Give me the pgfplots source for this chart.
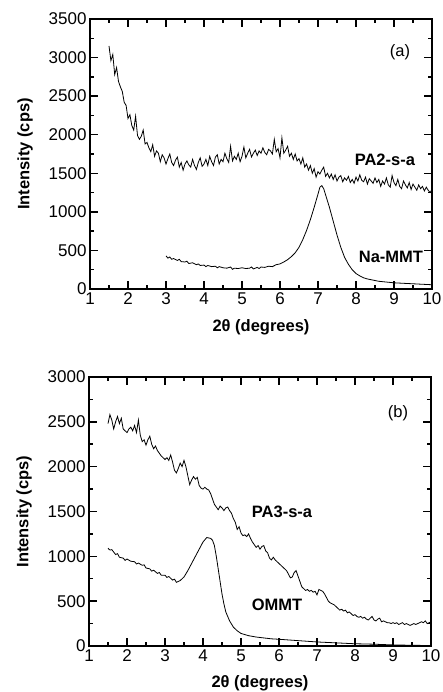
\documentclass[border=0pt]{standalone}
\usepackage{fontspec}
\setmainfont{Liberation Sans}
\usepackage{pgfplots}
\pgfplotsset{compat=1.18}
\newcommand{\tf}{\fontsize{17}{20}\selectfont}
\newcommand{\lf}{\fontsize{16.5}{19}\selectfont}
\tikzset{tk/.style={black, line width=1.5pt}}
\pgfplotsset{
  xrd/.style={
    scale only axis, width=342pt,
    xmin=1, xmax=10, xtick={1,2,...,10},
    minor x tick num=1, minor y tick num=1,
    tick align=inside, tick pos=both,
    major tick length=8pt, minor tick length=4pt,
    every tick/.append style={black, line width=1.5pt},
    tick label style={font=\tf},
    /pgf/number format/assume math mode=true,
    /pgf/number format/set thousands separator={},
    xlabel={\textbf{2θ (degrees)}},
    ylabel={\textbf{Intensity (cps)}},
    xlabel style={at={(axis description cs:0.5,-0.14)}, anchor=center, font=\lf},
    ylabel style={at={(axis description cs:-0.19,0.5)}, anchor=center, font=\lf},
    clip=false,
  },
  curve/.style={black, line width=0.8pt, mark=none},
}
\begin{document}
\begin{tikzpicture}
% ---------------- panel (a)
\begin{axis}[xrd, at={(90pt,403pt)}, anchor=south west, height=270pt,
  ymin=0, ymax=3500, ytick={0,500,...,3500}]
\addplot[curve] coordinates {
(1.50,3150)(1.55,2960)(1.60,3040)(1.65,2780)(1.70,2870)(1.75,2690)(1.80,2620)(1.85,2560)(1.90,2420)(1.95,2380)
(2.00,2210)(2.05,2260)(2.10,2120)(2.15,2060)(2.20,2240)(2.25,1990)(2.30,1940)(2.35,1980)(2.40,2060)(2.45,1880)
(2.50,1900)(2.55,1830)(2.60,1780)(2.65,1870)(2.70,1720)(2.75,1790)(2.80,1760)(2.85,1650)(2.90,1740)(2.95,1700)
(3.00,1620)(3.05,1690)(3.10,1750)(3.15,1640)(3.20,1600)(3.25,1670)(3.30,1710)(3.35,1580)(3.40,1640)(3.45,1540)
(3.50,1620)(3.55,1660)(3.60,1610)(3.65,1580)(3.70,1680)(3.75,1600)(3.80,1550)(3.85,1640)(3.90,1700)(3.95,1590)
(4.00,1620)(4.05,1680)(4.10,1600)(4.15,1720)(4.20,1650)(4.25,1600)(4.30,1710)(4.35,1740)(4.40,1620)(4.45,1680)
(4.50,1650)(4.55,1760)(4.60,1690)(4.65,1640)(4.70,1850)(4.75,1660)(4.80,1720)(4.85,1680)(4.90,1760)(4.95,1650)
(5.00,1720)(5.05,1840)(5.10,1700)(5.15,1760)(5.20,1810)(5.25,1710)(5.30,1760)(5.35,1800)(5.40,1730)(5.45,1790)
(5.50,1760)(5.55,1830)(5.60,1770)(5.65,1740)(5.70,1810)(5.75,1790)(5.80,1750)(5.85,1940)(5.90,1780)(5.95,1820)
(6.00,1700)(6.05,1960)(6.10,1760)(6.15,1800)(6.20,1850)(6.25,1720)(6.30,1760)(6.35,1680)(6.40,1750)(6.45,1660)
(6.50,1690)(6.55,1620)(6.60,1700)(6.65,1580)(6.70,1620)(6.75,1540)(6.80,1600)(6.85,1500)(6.90,1560)(6.95,1450)
(7.00,1520)(7.05,1490)(7.10,1540)(7.15,1580)(7.20,1460)(7.25,1500)(7.30,1440)(7.35,1490)(7.40,1420)(7.45,1480)
(7.50,1400)(7.55,1450)(7.60,1470)(7.65,1390)(7.70,1440)(7.75,1410)(7.80,1460)(7.85,1380)(7.90,1420)(7.95,1370)
(8.00,1450)(8.05,1400)(8.10,1480)(8.15,1410)(8.20,1390)(8.25,1450)(8.30,1360)(8.35,1430)(8.40,1400)(8.45,1370)
(8.50,1440)(8.55,1380)(8.60,1420)(8.65,1330)(8.70,1400)(8.75,1360)(8.80,1440)(8.85,1350)(8.90,1320)(8.95,1470)
(9.00,1380)(9.05,1340)(9.10,1420)(9.15,1330)(9.20,1300)(9.25,1400)(9.30,1350)(9.35,1310)(9.40,1380)(9.45,1290)
(9.50,1360)(9.55,1320)(9.60,1280)(9.65,1350)(9.70,1300)(9.75,1330)(9.80,1270)(9.85,1320)(9.90,1280)(9.95,1250)
(10.00,1290)
};
\addplot[curve] coordinates {
(3.0,430)(3.05,400)(3.1,415)(3.15,385)(3.2,395)(3.3,370)(3.35,385)(3.4,355)(3.5,350)(3.55,360)(3.6,330)(3.7,340)(3.8,315)(3.85,325)(3.9,305)
(4.0,310)(4.05,290)(4.1,305)(4.2,290)(4.3,295)(4.35,275)(4.4,290)(4.5,275)(4.6,270)(4.7,285)(4.75,255)(4.8,270)(4.9,265)
(5.0,275)(5.1,265)(5.2,270)(5.25,285)(5.3,260)(5.4,280)(5.45,265)(5.5,285)(5.6,280)(5.7,295)(5.8,290)(5.9,315)
(6.0,325)(6.1,350)(6.2,380)(6.3,420)(6.4,470)(6.5,540)(6.6,640)(6.7,760)(6.8,900)(6.9,1060)
(7.0,1230)(7.05,1320)(7.1,1340)(7.15,1300)(7.2,1220)(7.3,1060)(7.4,880)(7.5,700)(7.6,540)(7.7,410)
(7.8,320)(7.9,250)(8.0,200)(8.1,170)(8.2,145)(8.3,130)(8.4,120)(8.5,110)(8.6,100)(8.8,90)
(9.0,80)(9.2,75)(9.4,70)(9.6,65)(9.8,60)(10.0,55)
};
\pgfplotsinvokeforeach{1,2,...,10}{\draw[tk] (axis cs:#1,0) -- ++(0pt,8pt); \draw[tk] (axis cs:#1,3500) -- ++(0pt,-8pt);}
\pgfplotsinvokeforeach{1.5,2.5,...,9.5}{\draw[tk] (axis cs:#1,0) -- ++(0pt,4pt); \draw[tk] (axis cs:#1,3500) -- ++(0pt,-4pt);}
\pgfplotsinvokeforeach{0,500,...,3500}{\draw[tk] (axis cs:1,#1) -- ++(8pt,0pt); \draw[tk] (axis cs:10,#1) -- ++(-8pt,0pt);}
\pgfplotsinvokeforeach{250,750,...,3250}{\draw[tk] (axis cs:1,#1) -- ++(4pt,0pt); \draw[tk] (axis cs:10,#1) -- ++(-4pt,0pt);}
\draw[line width=1.3pt] (rel axis cs:0,0) rectangle (rel axis cs:1,1);
\node[font=\lf] at (axis cs:9.16,3072) {(a)};
\node[font=\lf\bfseries] at (axis cs:8.76,1672) {PA2-s-a};
\node[font=\lf\bfseries] at (axis cs:8.92,415) {Na-MMT};
\end{axis}
% ---------------- panel (b)
\begin{axis}[xrd, at={(89pt,46pt)}, anchor=south west, height=269pt,
  ymin=0, ymax=3000, ytick={0,500,...,3000}]
\addplot[curve] coordinates {
(1.50,2480)(1.55,2580)(1.60,2520)(1.65,2420)(1.70,2500)(1.75,2560)(1.80,2480)(1.85,2540)(1.90,2420)(1.95,2400)
(2.00,2380)(2.05,2420)(2.10,2440)(2.15,2400)(2.20,2460)(2.25,2380)(2.30,2520)(2.35,2350)(2.40,2280)(2.45,2300)
(2.50,2240)(2.55,2300)(2.60,2340)(2.65,2250)(2.70,2200)(2.75,2230)(2.80,2180)(2.85,2150)(2.90,2120)(2.95,2100)
(3.00,2080)(3.05,2100)(3.10,2070)(3.15,2130)(3.20,2050)(3.25,1960)(3.30,1930)(3.35,1980)(3.40,2040)(3.45,2000)
(3.50,2070)(3.55,2000)(3.60,1900)(3.65,1800)(3.70,1850)(3.75,1890)(3.80,1860)(3.85,1880)(3.90,1790)(3.95,1760)
(4.00,1750)(4.05,1770)(4.10,1750)(4.15,1740)(4.20,1700)(4.25,1640)(4.30,1580)(4.35,1550)(4.40,1520)(4.45,1560)
(4.50,1540)(4.55,1510)(4.60,1540)(4.65,1550)(4.70,1510)(4.75,1480)(4.80,1420)(4.85,1380)(4.90,1300)(4.95,1330)
(5.00,1260)(5.05,1230)(5.10,1240)(5.15,1220)(5.20,1250)(5.25,1200)(5.30,1160)(5.35,1130)(5.40,1100)(5.45,1120)
(5.50,1080)(5.55,1110)(5.60,1120)(5.65,1060)(5.70,1040)(5.75,980)(5.80,960)(5.85,990)(5.90,960)(5.95,940)
(6.00,920)(6.05,900)(6.10,880)(6.15,860)(6.20,840)(6.25,800)(6.30,760)(6.35,770)(6.40,820)(6.45,840)
(6.50,780)(6.55,720)(6.60,660)(6.65,640)(6.70,620)(6.75,630)(6.80,610)(6.85,620)(6.90,600)(6.95,610)
(7.00,570)(7.05,630)(7.10,620)(7.15,610)(7.20,580)(7.25,540)(7.30,500)(7.35,480)(7.40,470)(7.45,460)
(7.50,440)(7.55,420)(7.60,400)(7.65,410)(7.70,390)(7.75,400)(7.80,370)(7.85,380)(7.90,360)(7.95,340)
(8.00,350)(8.05,330)(8.10,320)(8.15,330)(8.20,310)(8.25,320)(8.30,300)(8.35,290)(8.40,310)(8.45,330)
(8.50,290)(8.55,280)(8.60,300)(8.65,310)(8.70,270)(8.75,280)(8.80,270)(8.85,260)(8.90,260)(8.95,250)
(9.00,260)(9.05,250)(9.10,260)(9.15,240)(9.20,250)(9.25,260)(9.30,240)(9.35,250)(9.40,240)(9.45,230)
(9.50,240)(9.55,250)(9.60,240)(9.65,250)(9.70,260)(9.75,270)(9.80,260)(9.85,280)(9.90,250)(9.95,260)
(10.00,270)
};
\addplot[curve] coordinates {
(1.50,1090)(1.55,1070)(1.60,1075)(1.70,1020)(1.75,1030)(1.80,990)(1.90,980)(1.95,955)(2.00,970)(2.10,945)(2.20,940)(2.25,915)(2.30,925)
(2.40,900)(2.45,905)(2.50,870)(2.60,860)(2.65,835)(2.70,845)(2.80,810)(2.85,820)(2.90,790)(3.00,790)(3.05,765)(3.10,775)(3.20,735)(3.25,745)(3.30,710)
(3.40,730)(3.50,770)(3.60,840)(3.70,920)(3.80,1000)(3.90,1080)(4.00,1160)(4.10,1210)(4.20,1200)(4.25,1180)
(4.30,1120)(4.35,1000)(4.40,860)(4.45,720)(4.50,580)(4.55,470)(4.60,380)(4.70,280)(4.80,210)(4.90,170)
(5.00,140)(5.20,115)(5.40,100)(5.60,90)(5.80,80)(6.00,75)(6.50,60)(7.00,45)(7.50,35)(8.00,25)
(8.50,20)(9.00,12)(9.50,8)(10.00,5)
};
\pgfplotsinvokeforeach{1,2,...,10}{\draw[tk] (axis cs:#1,0) -- ++(0pt,8pt); \draw[tk] (axis cs:#1,3000) -- ++(0pt,-8pt);}
\pgfplotsinvokeforeach{1.5,2.5,...,9.5}{\draw[tk] (axis cs:#1,0) -- ++(0pt,4pt); \draw[tk] (axis cs:#1,3000) -- ++(0pt,-4pt);}
\pgfplotsinvokeforeach{0,500,...,3000}{\draw[tk] (axis cs:1,#1) -- ++(8pt,0pt); \draw[tk] (axis cs:10,#1) -- ++(-8pt,0pt);}
\pgfplotsinvokeforeach{250,750,...,2750}{\draw[tk] (axis cs:1,#1) -- ++(4pt,0pt); \draw[tk] (axis cs:10,#1) -- ++(-4pt,0pt);}
\draw[line width=1.3pt] (rel axis cs:0,0) rectangle (rel axis cs:1,1);
\node[font=\lf] at (axis cs:9.13,2599) {(b)};
\node[font=\lf\bfseries] at (axis cs:6.08,1494) {PA3-s-a};
\node[font=\lf\bfseries] at (axis cs:5.95,457) {OMMT};
\end{axis}
\pgfresetboundingbox
\path[use as bounding box] (0,0) rectangle (443pt,692pt);
\end{tikzpicture}
\end{document}
